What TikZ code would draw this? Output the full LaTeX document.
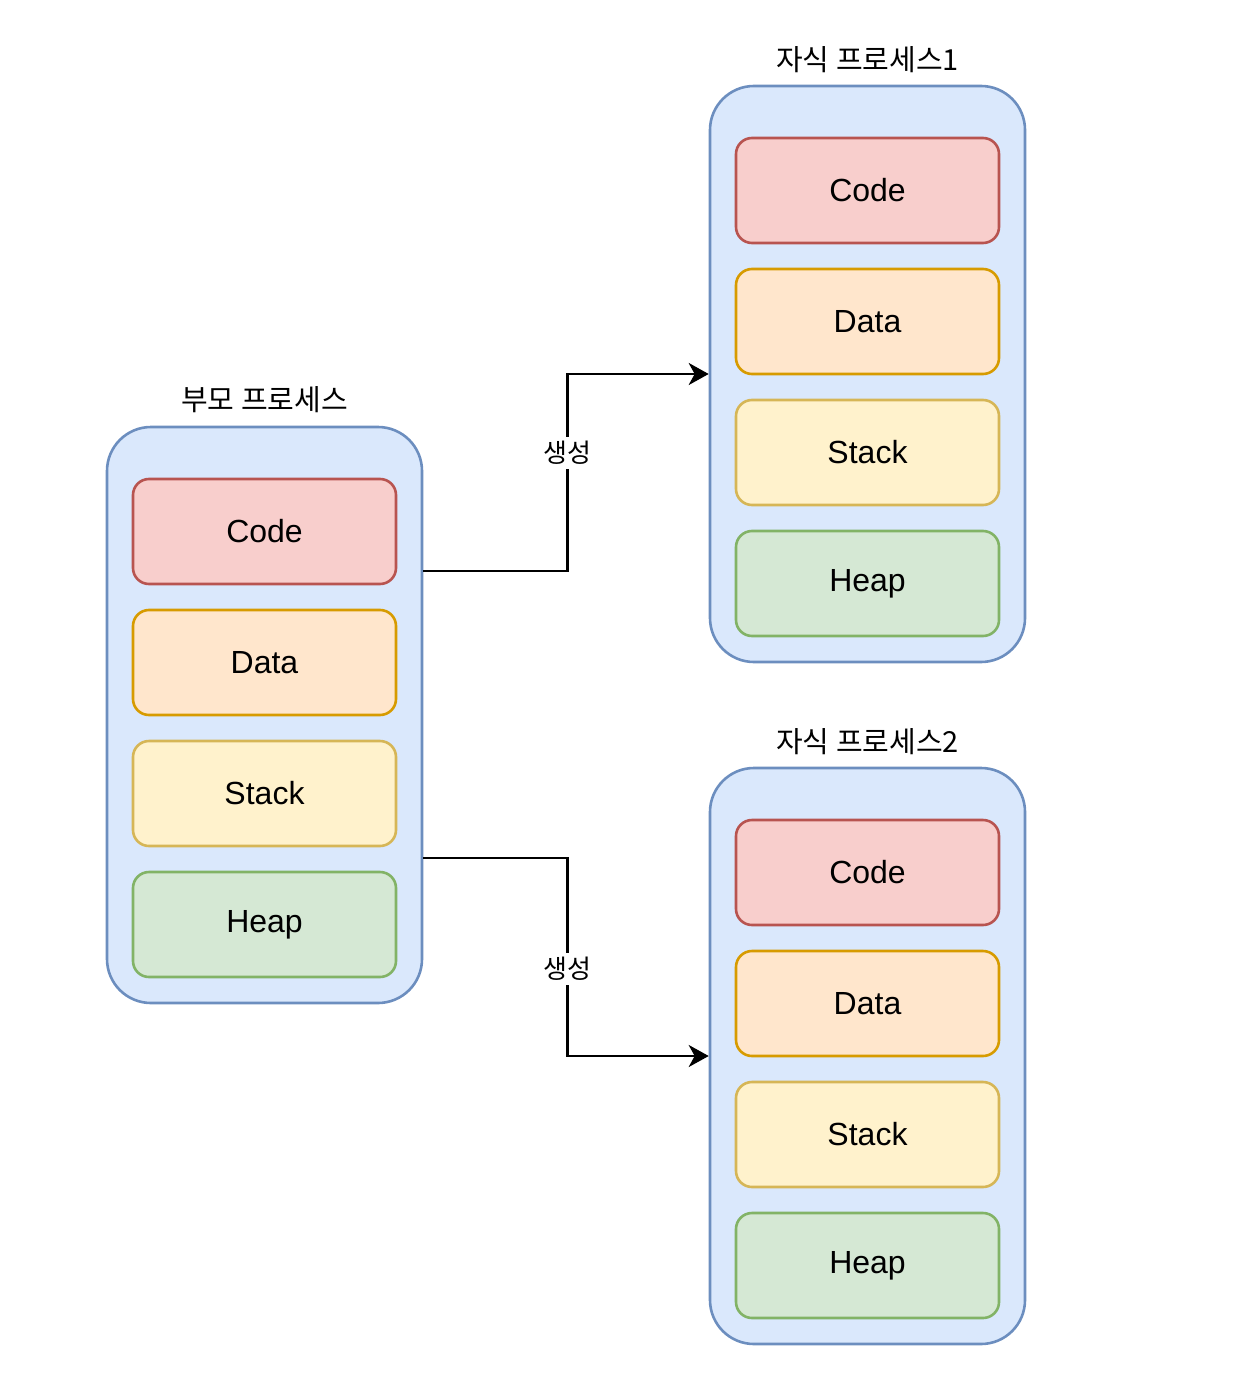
\documentclass[tikz,border=0pt]{standalone}
\usepackage{fontspec}
\setmainfont{Liberation Sans}
\newfontfamily\kor{Noto Sans CJK KR}
\usetikzlibrary{arrows.meta}
\tikzset{>={Stealth[length=10pt,width=11pt,inset=3pt]}}
\definecolor{procfill}{HTML}{DAE8FC}
\definecolor{procline}{HTML}{6C8EBF}
\definecolor{codefill}{HTML}{F8CECC}
\definecolor{codeline}{HTML}{B85450}
\definecolor{datafill}{HTML}{FFE6CC}
\definecolor{dataline}{HTML}{D79B00}
\definecolor{stackfill}{HTML}{FFF2CC}
\definecolor{stackline}{HTML}{D6B656}
\definecolor{heapfill}{HTML}{D5E8D4}
\definecolor{heapline}{HTML}{82B366}

\begin{document}
\begin{tikzpicture}[x=0.5pt, y=-0.5pt,
  procbox/.style={draw=procline, fill=procfill, line width=1.3pt, rounded corners=22pt, minimum width=157.5pt, minimum height=288pt},
  segbox/.style={line width=1.3pt, rounded corners=8pt, minimum width=131.5pt, minimum height=52.5pt, font=\fontsize{16}{19}\selectfont},
  codebox/.style={segbox, draw=codeline, fill=codefill},
  databox/.style={segbox, draw=dataline, fill=datafill},
  stackbox/.style={segbox, draw=stackline, fill=stackfill},
  heapbox/.style={segbox, draw=heapline, fill=heapfill},
  title/.style={font=\kor\fontsize{14.5}{17}\selectfont, text=black},
  forkline/.style={->, line width=1.4pt},
  forklabel/.style={fill=white, font=\kor\fontsize{13}{16}\selectfont, text=black, inner sep=2pt}]
  \useasboundingbox (0,0) rectangle (1234,1374);

  % parent process
  \node (parent) at (264.5,715) [procbox] {};
  \node (ptitle) at (264.5,400) [title] {부모 프로세스};
  \node (pcode) at (264.5,531.5) [codebox] {Code};
  \node (pdata) at (264.5,662.5) [databox] {Data};
  \node (pstack) at (264.5,793.5) [stackbox] {Stack};
  \node (pheap) at (264.5,924.5) [heapbox] {Heap};

  % child process 1
  \node (child1) at (867.5,374) [procbox] {};
  \node (c1title) at (867.5,60) [title] {자식 프로세스1};
  \node (c1code) at (867.5,190.5) [codebox] {Code};
  \node (c1data) at (867.5,321.5) [databox] {Data};
  \node (c1stack) at (867.5,452.5) [stackbox] {Stack};
  \node (c1heap) at (867.5,583.5) [heapbox] {Heap};

  % child process 2
  \node (child2) at (867.5,1056) [procbox] {};
  \node (c2title) at (867.5,742) [title] {자식 프로세스2};
  \node (c2code) at (867.5,872.5) [codebox] {Code};
  \node (c2data) at (867.5,1003.5) [databox] {Data};
  \node (c2stack) at (867.5,1134.5) [stackbox] {Stack};
  \node (c2heap) at (867.5,1265.5) [heapbox] {Heap};

  \draw[forkline] ([yshift=72pt]parent.east) -- ++(144,0) |- node[forklabel, pos=0.3] {생성} (child1.west);
  \draw[forkline] ([yshift=-71.5pt]parent.east) -- ++(144,0) |- node[forklabel, pos=0.28] {생성} (child2.west);
\end{tikzpicture}
\end{document}
